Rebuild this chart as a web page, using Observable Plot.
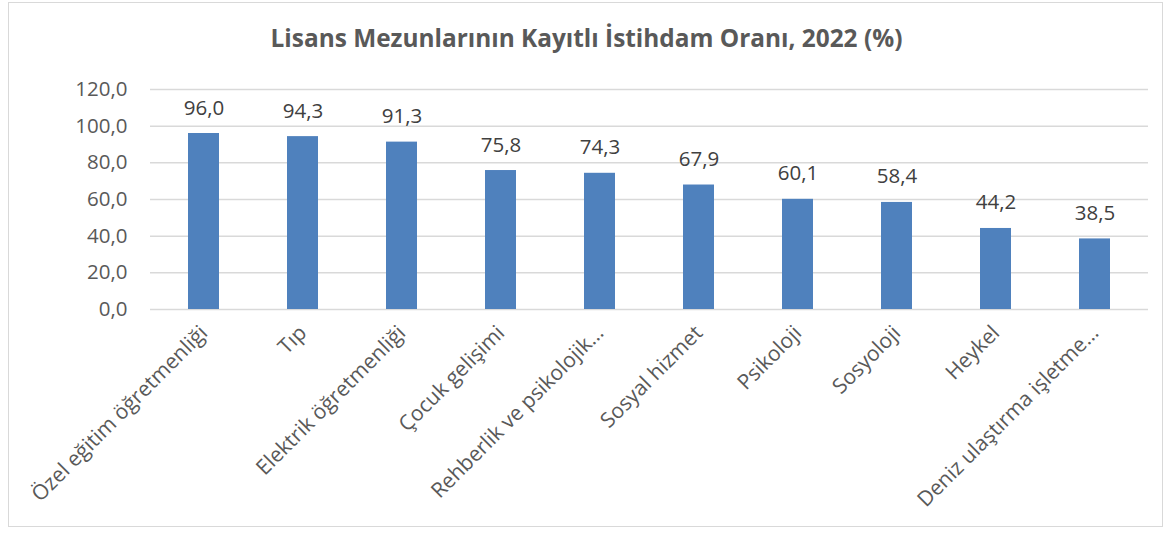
<!DOCTYPE html>
<html><head><meta charset="utf-8">
<script src="https://cdn.jsdelivr.net/npm/d3@7"></script>
<script src="https://cdn.jsdelivr.net/npm/@observablehq/plot@0.6"></script>
<style>
body{margin:0;background:#fff;font-family:"Open Sans",sans-serif;}
#wrap{position:relative;width:1173px;height:534px;overflow:hidden;}
#frame{position:absolute;left:8px;top:2px;width:1153px;height:523px;border:1px solid #d9d9d9;}
#title{position:absolute;left:0;width:1173px;top:26px;line-height:1;text-align:center;font-size:24.4px;font-weight:bold;color:#595959;}
#chart{position:absolute;left:0;top:0;}
</style></head>
<body>
<div id="wrap"><div id="frame"></div><div id="title">Lisans Mezunlarının Kayıtlı İstihdam Oranı, 2022 (%)</div><div id="chart"></div></div>
<script>
const categories = ["Özel eğitim öğretmenliği","Tıp","Elektrik öğretmenliği","Çocuk gelişimi","Rehberlik ve psikolojik…","Sosyal hizmet","Psikoloji","Sosyoloji","Heykel","Deniz ulaştırma işletme…"];
const values = [96.0,94.3,91.3,75.8,74.3,67.9,60.1,58.4,44.2,38.5];
const yTicks = [0,20,40,60,80,100,120];
const data = categories.map((c,i)=>({cat:c,val:values[i]}));
const fmt = d => d.toFixed(1).replace(".", ",");
const plot = Plot.plot({
  width:1173, height:534,
  marginTop:89, marginBottom:225, marginLeft:150, marginRight:25,
  style:{fontFamily:"Open Sans, sans-serif", color:"#595959", background:"transparent"},
  x:{domain:categories, paddingInner:0.69, paddingOuter:0.345, label:null},
  y:{domain:[0,120], label:null},
  marks:[
    Plot.gridY(yTicks,{stroke:"#d9d9d9", strokeOpacity:1, strokeWidth:1.5}),
    Plot.axisY({ticks:yTicks, tickSize:0, tickPadding:23, tickFormat:fmt, fontSize:20.5, fill:"#595959", label:null}),
    Plot.axisX({tickSize:0, tickRotate:-45, tickPadding:20, fontSize:21, fill:"#595959", label:null}),
    Plot.barY(data,{x:"cat", y:"val", fill:"#4f81bd"}),
    Plot.text(data,{x:"cat", y:"val", text:d=>fmt(d.val), lineAnchor:"bottom", dy:-19, fontSize:20.5, fill:"#404040"})
  ]
});
document.getElementById("chart").appendChild(plot);
</script>
</body></html>
